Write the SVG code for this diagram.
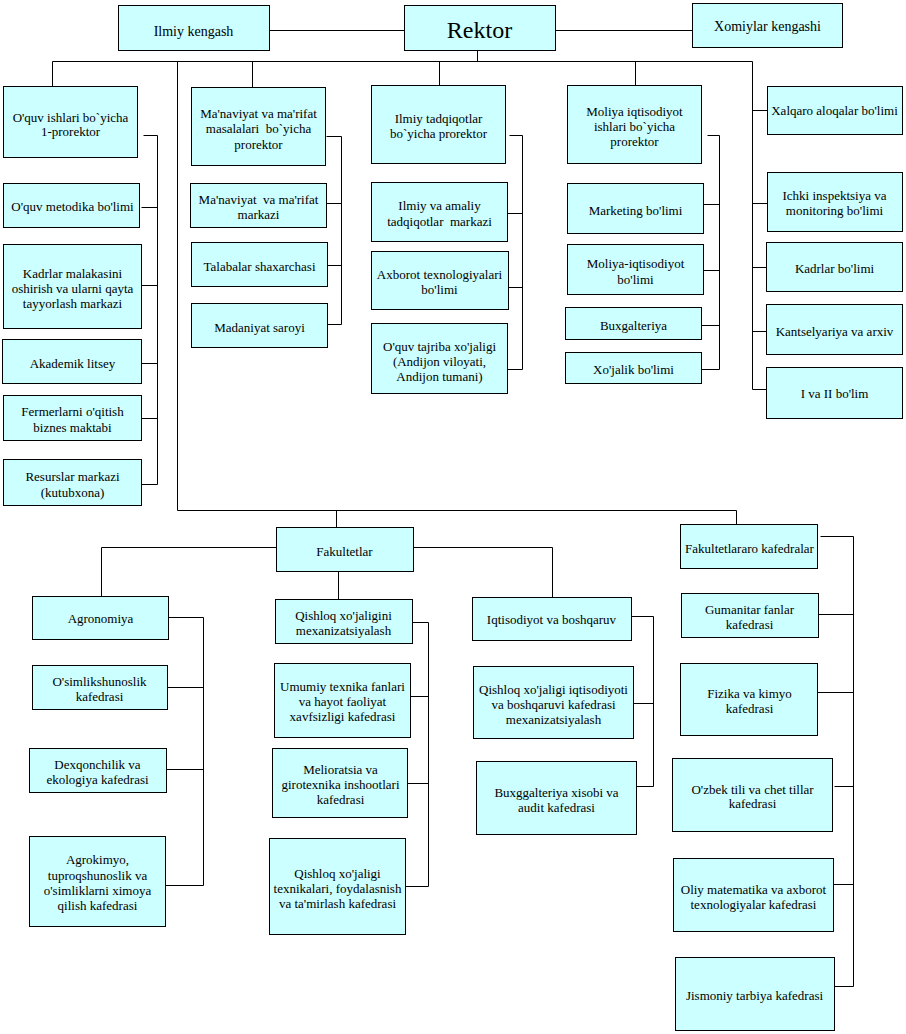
<svg xmlns="http://www.w3.org/2000/svg" width="906" height="1034" viewBox="0 0 906 1034">
<style>
.b{fill:#CCFFFF;stroke:#000;stroke-width:1}
.c{fill:none;stroke:#000;stroke-width:1}
text{font-family:"Liberation Serif","Times New Roman",serif;font-size:13px;fill:#000;text-anchor:middle}
.t14{font-size:14px}
.t24{font-size:24px}
</style>
<rect x="0" y="0" width="906" height="1034" fill="#fff"/>
<g transform="translate(0.5,0.5)">
<g id="connectors" class="c">
<path d="M269,30H404M555,30H692M477,50V61M52,61H752M52,61V86M252,61V87M439,61V85M635,61V85"/>
<path d="M177,61V510H736V524"/>
<path d="M752,61V389M752,110H767M752,203H767M752,267H766M752,331H766M752,389H766"/>
<path d="M143,135H157V484M141,207H157M141,285H157M141,363H157M141,418H157M141,484H157"/>
<path d="M326,136H341V324M326,203H341M327,265H341M327,324H341"/>
<path d="M509,135H522V369M507,213H522M508,287H522M507,369H522"/>
<path d="M707,135H719V369M703,204H719M703,270H719M701,325H719M701,369H719"/>
<path d="M336,510V527M276,547H101V596M413,547H552V597M338,571V599"/>
<path d="M168,617H203V885M167,687H203M166,769H203M165,885H203"/>
<path d="M412,622H428V886M410,696H428M407,783H428M405,886H428"/>
<path d="M631,616H653V786M633,703H653M636,786H653"/>
<path d="M820,536H853V986M818,614H853M817,692H853M834,786H853M833,884H853M834,986H853"/>
</g>
<g id="ilmiy-kengash"><rect class="b" x="118" y="5" width="151" height="45"/><text class="t14" x="193" y="35">Ilmiy kengash</text></g>
<g id="rektor"><rect class="b" x="404" y="5" width="151" height="45"/><text class="t24" x="479" y="37">Rektor</text></g>
<g id="xomiylar"><rect class="b" x="692" y="3" width="150" height="44"/><text class="t14" x="767" y="30">Xomiylar kengashi</text></g>
<g id="oquv-prorektor"><rect class="b" x="3" y="86" width="134" height="71"/><text x="70" y="121">O'quv ishlari bo`yicha</text><text x="70" y="135">1-prorektor</text></g>
<g id="manaviyat-prorektor"><rect class="b" x="191" y="87" width="134" height="78"/><text x="258" y="117">Ma'naviyat va ma'rifat</text><text x="258" y="132" xml:space="preserve">masalalari  bo`yicha</text><text x="258" y="148">prorektor</text></g>
<g id="ilmiy-prorektor"><rect class="b" x="371" y="85" width="134" height="78"/><text x="438" y="122">Ilmiy tadqiqotlar</text><text x="438" y="137">bo`yicha prorektor</text></g>
<g id="moliya-prorektor"><rect class="b" x="567" y="85" width="134" height="78"/><text x="634" y="115">Moliya iqtisodiyot</text><text x="634" y="130">ishlari bo`yicha</text><text x="634" y="145">prorektor</text></g>
<g id="xalqaro"><rect class="b" x="767" y="86" width="135" height="48"/><text x="834" y="114">Xalqaro aloqalar bo'limi</text></g>
<g id="oquv-metodika"><rect class="b" x="3" y="183" width="136" height="44"/><text x="72" y="210">O'quv metodika bo'limi</text></g>
<g id="kadrlar-malaka"><rect class="b" x="3" y="244" width="138" height="84"/><text x="72" y="277">Kadrlar malakasini</text><text x="72" y="292">oshirish va ularni qayta</text><text x="72" y="307">tayyorlash markazi</text></g>
<g id="akademik"><rect class="b" x="2" y="339" width="139" height="44"/><text x="72" y="367">Akademik litsey</text></g>
<g id="fermerlar"><rect class="b" x="3" y="395" width="138" height="45"/><text x="72" y="415">Fermerlarni o'qitish</text><text x="72" y="431">biznes maktabi</text></g>
<g id="resurslar"><rect class="b" x="3" y="459" width="138" height="46"/><text x="72" y="480">Resurslar markazi</text><text x="72" y="496">(kutubxona)</text></g>
<g id="manaviyat-markazi"><rect class="b" x="190" y="183" width="136" height="44"/><text x="258" y="203" xml:space="preserve">Ma'naviyat  va ma'rifat</text><text x="258" y="218">markazi</text></g>
<g id="talabalar"><rect class="b" x="191" y="242" width="136" height="44"/><text x="259" y="270">Talabalar shaxarchasi</text></g>
<g id="madaniyat"><rect class="b" x="191" y="303" width="136" height="44"/><text x="259" y="331">Madaniyat saroyi</text></g>
<g id="ilmiy-amaliy"><rect class="b" x="371" y="182" width="136" height="59"/><text x="439" y="209">Ilmiy va amaliy</text><text x="439" y="225" xml:space="preserve">tadqiqotlar  markazi</text></g>
<g id="axborot"><rect class="b" x="371" y="251" width="137" height="58"/><text x="439" y="278">Axborot texnologiyalari</text><text x="439" y="293">bo'limi</text></g>
<g id="oquv-tajriba"><rect class="b" x="371" y="323" width="136" height="70"/><text x="439" y="350">O'quv tajriba xo'jaligi</text><text x="439" y="365">(Andijon viloyati,</text><text x="439" y="380">Andijon tumani)</text></g>
<g id="marketing"><rect class="b" x="567" y="183" width="136" height="50"/><text x="635" y="214">Marketing bo'limi</text></g>
<g id="moliya-iqt"><rect class="b" x="567" y="244" width="136" height="50"/><text x="635" y="267">Moliya-iqtisodiyot</text><text x="635" y="283">bo'limi</text></g>
<g id="buxgalteriya"><rect class="b" x="565" y="307" width="136" height="32"/><text x="633" y="329">Buxgalteriya</text></g>
<g id="xojalik"><rect class="b" x="565" y="352" width="136" height="31"/><text x="633" y="373">Xo'jalik bo'limi</text></g>
<g id="ichki"><rect class="b" x="767" y="172" width="135" height="59"/><text x="834" y="199">Ichki inspektsiya va</text><text x="834" y="214">monitoring bo'limi</text></g>
<g id="kadrlar-bolimi"><rect class="b" x="766" y="242" width="136" height="49"/><text x="834" y="272">Kadrlar bo'limi</text></g>
<g id="kantselyariya"><rect class="b" x="766" y="304" width="136" height="50"/><text x="834" y="335">Kantselyariya va arxiv</text></g>
<g id="i-va-ii"><rect class="b" x="766" y="367" width="136" height="51"/><text x="834" y="397">I va II bo'lim</text></g>
<g id="fakultetlar"><rect class="b" x="276" y="527" width="137" height="44"/><text x="344" y="555">Fakultetlar</text></g>
<g id="agronomiya"><rect class="b" x="32" y="596" width="136" height="43"/><text x="100" y="622">Agronomiya</text></g>
<g id="qx-mexanizatsiya"><rect class="b" x="275" y="599" width="137" height="44"/><text x="343" y="619">Qishloq xo'jaligini</text><text x="343" y="634">mexanizatsiyalash</text></g>
<g id="iqtisodiyot"><rect class="b" x="472" y="597" width="159" height="43"/><text x="551" y="623">Iqtisodiyot va boshqaruv</text></g>
<g id="fakultetlararo"><rect class="b" x="680" y="524" width="137" height="44"/><text x="749" y="552">Fakultetlararo kafedralar</text></g>
<g id="osimlik"><rect class="b" x="32" y="665" width="135" height="44"/><text x="99" y="685">O'simlikshunoslik</text><text x="99" y="700">kafedrasi</text></g>
<g id="umumiy"><rect class="b" x="274" y="663" width="136" height="74"/><text x="342" y="690">Umumiy texnika fanlari</text><text x="342" y="705">va hayot faoliyat</text><text x="342" y="720">xavfsizligi kafedrasi</text></g>
<g id="dexqon"><rect class="b" x="29" y="748" width="137" height="44"/><text x="97" y="768">Dexqonchilik va</text><text x="97" y="783">ekologiya kafedrasi</text></g>
<g id="agrokimyo"><rect class="b" x="29" y="836" width="136" height="90"/><text x="97" y="863">Agrokimyo,</text><text x="97" y="879">tuproqshunoslik va</text><text x="97" y="894">o'simliklarni ximoya</text><text x="97" y="909">qilish kafedrasi</text></g>
<g id="melioratsia"><rect class="b" x="272" y="748" width="135" height="69"/><text x="340" y="773">Melioratsia va</text><text x="340" y="788">girotexnika inshootlari</text><text x="340" y="803">kafedrasi</text></g>
<g id="qx-texnika"><rect class="b" x="269" y="838" width="136" height="96"/><text x="337" y="877">Qishloq xo'jaligi</text><text x="337" y="892">texnikalari, foydalasnish</text><text x="337" y="907">va ta'mirlash kafedrasi</text></g>
<g id="qx-iqtisod"><rect class="b" x="473" y="666" width="160" height="72"/><text x="553" y="693">Qishloq xo'jaligi iqtisodiyoti</text><text x="553" y="708">va boshqaruvi kafedrasi</text><text x="553" y="723">mexanizatsiyalash</text></g>
<g id="buxg-audit"><rect class="b" x="476" y="761" width="160" height="73"/><text x="556" y="796">Buxggalteriya xisobi va</text><text x="556" y="811">audit kafedrasi</text></g>
<g id="gumanitar"><rect class="b" x="681" y="593" width="137" height="44"/><text x="749" y="613">Gumanitar fanlar</text><text x="749" y="628">kafedrasi</text></g>
<g id="fizika"><rect class="b" x="680" y="663" width="137" height="72"/><text x="749" y="697">Fizika va kimyo</text><text x="749" y="712">kafedrasi</text></g>
<g id="ozbek"><rect class="b" x="672" y="758" width="160" height="73"/><text x="752" y="793">O'zbek tili va chet tillar</text><text x="752" y="807">kafedrasi</text></g>
<g id="oliy"><rect class="b" x="673" y="858" width="160" height="73"/><text x="753" y="893">Oliy matematika va axborot</text><text x="753" y="908">texnologiyalar kafedrasi</text></g>
<g id="jismoniy"><rect class="b" x="675" y="957" width="159" height="73"/><text x="754" y="999">Jismoniy tarbiya kafedrasi</text></g>
</g>
</svg>
